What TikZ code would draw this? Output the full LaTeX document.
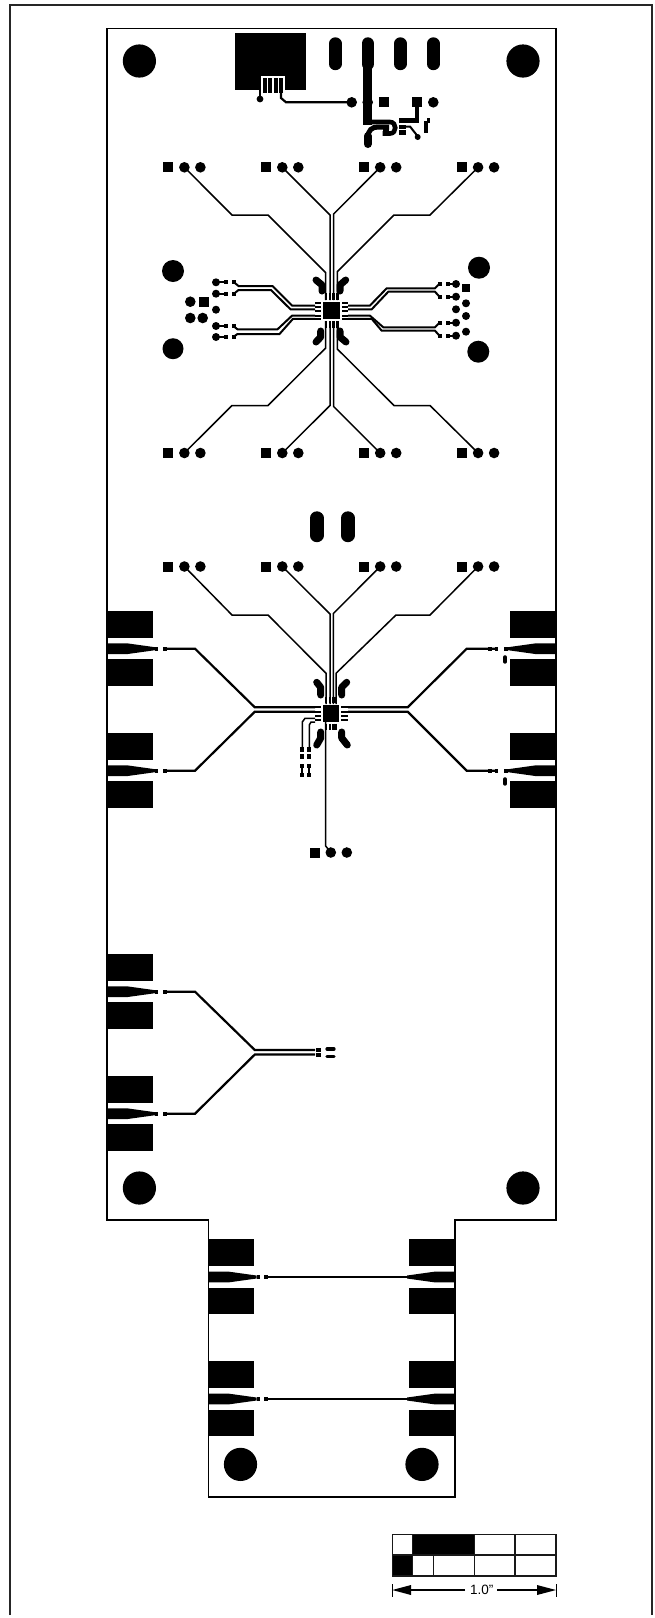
\documentclass[tikz,border=0pt]{standalone}
\usepackage{fontspec}
\setmainfont{Liberation Sans}
\tikzset{
  trace/.style={line width=1.5pt,line join=miter},
  fan/.style={line width=2pt,line join=miter},
  hvy/.style={line width=2.2pt,line join=miter},
  blob/.style={line width=7pt,line cap=round,line join=round},
  outline/.style={line width=1.7pt,line join=miter},
  framing/.style={line width=1.7pt,draw=black!85},
  ruler/.style={line width=1.2pt,draw=black!90}
}
\newcommand{\dotc}[3]{\fill (#1,#2) circle[radius=#3pt];}
\newcommand{\sq}[3]{\fill (#1-#3/2,#2-#3/2) rectangle (#1+#3/2,#2+#3/2);}
\newcommand{\hdr}[2]{\sq{#1}{#2}{10}\dotc{#1+16}{#2}{5.3}\dotc{#1+32}{#2}{5.3}}
\newcommand{\slot}[4]{\draw[line width=#3pt,line cap=round] (#1,#2) -- (#1,#4);}
\newcommand{\chipbody}[2]{\fill (#1-8.4,#2-8.6) rectangle (#1+8.4,#2+8.6);}
\newcommand{\launch}[3]{%
  \fill (#1,#2-37.7) rectangle (#1+#3*45.7,#2-11);
  \fill (#1,#2+10.7) rectangle (#1+#3*45.7,#2+37.4);
  \fill (#1,#2-5.4) -- (#1+#3*20,#2-5.4) -- (#1+#3*48,#2-1.5) -- (#1+#3*48,#2+1.5) -- (#1+#3*20,#2+5.4) -- (#1,#2+5.4) -- cycle;}
\begin{document}
\begin{tikzpicture}[x=1pt,y=-1pt]
\useasboundingbox (0,0) rectangle (654,1618);
\fill[white] (0,0) rectangle (654,1618);
% outer frame, open at the foot
\draw[framing] (10.3,1615) -- (10.3,5) -- (651.7,5) -- (651.7,1615);
% board outline
\draw[outline] (107,28.5) -- (556,28.5) -- (556,1220) -- (455,1220) -- (455,1497) -- (208.5,1497) -- (208.5,1220) -- (107,1220) -- cycle;
% mounting holes
\foreach \p in {(139.4,61),(523,61),(139.4,1188),(523,1188),(240.5,1464.4),(422,1464.4)} {\fill \p circle[radius=16.6pt];}
% connector block with fingers
\fill (235,33) rectangle (306,90);
\fill[white] (261,76) rectangle (284.5,92);
\fill (262.7,78) rectangle (283.2,93);
\foreach \x in {267.8,273,278.2} {\draw[white,line width=1.1pt] (\x,77) -- (\x,94);}
\draw[line width=1.5pt] (252,88.5) -- (260,88.5);
\draw[line width=2.2pt] (260,88) -- (260,99);
\dotc{260}{99}{3.4}
\draw[hvy] (281,90) -- (281,98) -- (286,102.3) -- (352,102.3);
% top row
\dotc{351.7}{102.3}{5.3}
\dotc{367.7}{102.3}{5.3}
\sq{384}{102.3}{10}
\sq{417}{102.3}{10}
\dotc{433.3}{102.3}{5.3}
% top slots
\slot{335.3}{43.5}{12.4}{64}
\slot{400.3}{43.5}{12.4}{64}
\slot{433.3}{43.5}{12.4}{64}
\slot{367.7}{43.5}{12.4}{64}
\draw[line width=8.6pt] (367.7,60) -- (367.7,124.5);
\draw[line width=4.6pt] (364,122) -- (390,122) .. controls (397,122) and (397,133.5) .. (390,133.5) -- (382.5,133.5);
\fill (382.5,129) rectangle (389,136);
\draw[line width=8pt,line cap=round] (367.7,144) -- (367.7,136);
\draw[line width=5pt] (367.7,138) .. controls (368,130) and (372,127) .. (378,127) -- (389,127);
% right power part
\draw[line width=3.5pt] (417,102) -- (417,121);
\draw[line width=4.5pt] (399.3,120.3) -- (418.5,120.3);
\fill (399.3,125) rectangle (406,129);
\fill (399.3,130) rectangle (406,135);
\draw[line width=2pt] (403,126.5) -- (410,126.5) -- (417.5,136);
\dotc{417.7}{137}{3}
\fill (424,123) rectangle (428,132.5);
\fill (424,118) rectangle (430,123);
\fill[white] (424,118) rectangle (427,120.5);
% header rows
\foreach \x in {168.4,266.3,364.2,462.1} {\hdr{\x}{167.3}\hdr{\x}{453}\hdr{\x}{566.5}}
\hdr{314.8}{852.5}
% ---------- upper chip ----------
\chipbody{331.5}{310.5}
\draw[trace] (184.4,167.3) -- (232,215) -- (268,215) -- (325.7,272.7) -- (325.7,300);
\draw[trace] (282.3,167.3) -- (330,215) -- (330,300);
\draw[trace] (380.2,167.3) -- (333.6,214) -- (333.6,300);
\draw[trace] (478.1,167.3) -- (430,215) -- (394,215) -- (337.3,271.7) -- (337.3,300);
\draw[trace] (184.4,453) -- (232,405.5) -- (268,405.5) -- (325.7,348) -- (325.7,321);
\draw[trace] (282.3,453) -- (330,405.5) -- (330,321);
\draw[trace] (380.2,453) -- (333.6,406.5) -- (333.6,321);
\draw[trace] (478.1,453) -- (430,405.5) -- (394,405.5) -- (337.3,349) -- (337.3,321);
\foreach \x in {325.7,330,333.6,337.3} {
  \draw[line width=2.4pt] (\x,293) -- (\x,300);
  \draw[line width=2.4pt] (\x,321) -- (\x,328);}
\foreach \p in {303,307,311,315.5,319} {
  \draw[line width=2pt] (315,\p) -- (321,\p);
  \draw[line width=2pt] (342,\p) -- (348,\p);}
\draw[blob] (316,280) -- (322,285) -- (322,291);
\draw[blob] (345.7,280) -- (340,285) -- (340,291);
\draw[blob] (320.7,331) -- (320.7,337) -- (316,342);
\draw[blob] (340,331) -- (340,337) -- (346,342);
% side fans, left
\draw[fan] (315,305.5) -- (292,305.5) -- (272.5,286) -- (238.5,286) -- (234,282.3);
\draw[fan] (315,309.3) -- (290.5,309.3) -- (271,290) -- (238.5,290) -- (234,293.7);
\draw[fan] (315,315.7) -- (292,315.7) -- (277.5,329.3) -- (237.5,329.3) -- (233.3,326);
\draw[fan] (315,318.8) -- (293,318.8) -- (279.5,334) -- (237.5,334) -- (233.3,337);
% side fans, right
\draw[fan] (348,305.5) -- (370,305.5) -- (386.7,288.3) -- (435,288.3) -- (439.5,283.8);
\draw[fan] (348,309.3) -- (371.7,309.3) -- (388.3,291.7) -- (435,291.7) -- (439.5,296.7);
\draw[fan] (348,315.7) -- (370,315.7) -- (383.3,327.3) -- (435,327.3) -- (439.5,322.7);
\draw[fan] (348,318.8) -- (371.7,318.8) -- (381.7,330.7) -- (435,330.7) -- (439.5,335.7);
% left vias and pads
\foreach \y in {282.3,293.7,326,337} {
  \dotc{216}{\y}{4}
  \draw[line width=1.8pt] (216,\y) -- (228,\y);
  \fill (223.5,\y-2) rectangle (228,\y+2);
  \fill (232,\y-2) rectangle (236,\y+2);}
\dotc{216}{309.7}{4}
\sq{204}{301.7}{10}
\dotc{190.3}{301.7}{5.3}
\dotc{190.3}{318}{5.3}
\dotc{202.7}{318}{5.3}
\fill (173,271) circle[radius=11pt];
\fill (173,348.7) circle[radius=10.5pt];
% right vias and pads
\foreach \y in {284,296.7,322.7,335.7} {
  \dotc{456}{\y}{4}
  \draw[line width=1.8pt] (447,\y) -- (456,\y);
  \fill (438,\y-2) rectangle (442,\y+2);
  \fill (446,\y-2) rectangle (450,\y+2);}
\sq{466}{287.7}{8}
\dotc{466}{303.3}{4}
\dotc{456}{309.3}{4}
\dotc{466}{316}{4}
\dotc{466}{331.7}{4}
\fill (479,267.7) circle[radius=11pt];
\fill (478.3,351.7) circle[radius=11pt];
% slots between the sections
\slot{316.8}{518}{13.4}{535.5}
\slot{347.8}{518}{13.4}{535.5}
% ---------- lower chip ----------
\chipbody{331}{713.3}
\draw[trace] (184.4,566.5) -- (232,615) -- (268,615) -- (326,673.3) -- (326,704);
\draw[trace] (282.3,566.5) -- (330,614) -- (330,704);
\draw[trace] (380.2,566.5) -- (333.4,613.5) -- (333.4,704);
\draw[trace] (478.1,566.5) -- (430,615) -- (396,615) -- (336,673.3) -- (336,704);
\foreach \x in {326,330,333.4,336} {\draw[line width=2.2pt] (\x,696.5) -- (\x,703);}
\foreach \x in {326,330,333.4,336} {\draw[line width=2.2pt] (\x,723.5) -- (\x,730);}
\foreach \y in {707.3,711.7,715.5,719.5} {
  \draw[line width=2pt] (315,\y) -- (321,\y);
  \draw[line width=2pt] (341,\y) -- (348,\y);}
\draw[blob] (316.7,682.3) -- (320.7,687.3) -- (320.7,695);
\draw[blob] (346.7,682.3) -- (341.7,687.3) -- (341.7,695);
\draw[blob] (320.7,732) -- (320.7,738) -- (316.7,745);
\draw[blob] (341.7,732) -- (341.7,738) -- (347.3,745);
\draw[trace] (325.7,722) -- (325.7,846) -- (330.8,852.5);
\draw[hvy] (166.7,648.7) -- (195,648.7) -- (254.8,707.3) -- (315,707.3);
\draw[hvy] (166.7,770.7) -- (195,770.7) -- (254.8,711.7) -- (315,711.7);
\draw[hvy] (495,648.7) -- (466.7,648.7) -- (407.7,707.3) -- (348,707.3);
\draw[hvy] (495,770.7) -- (466.7,770.7) -- (407.7,711.7) -- (348,711.7);
% little traces under the lower chip
\draw[trace] (315,718.3) -- (305,718.3) -- (302.3,722) -- (302.3,748);
\draw[trace] (315,722) -- (311,722) -- (309.3,725) -- (309.3,748);
\foreach \x in {302.3,309.3} {\foreach \y in {749.5,756.5,766,775} {\fill (\x-1.9,\y-2.2) rectangle (\x+1.9,\y+2.2);}
  \draw[line width=2pt] (\x,766) -- (\x,775);}
% launches, left and right
\foreach \y in {648.7,770.7,991.7,1113.7} {
  \launch{107}{\y}{1}
  \fill (155,\y-1.8) rectangle (158.3,\y+1.8);
  \fill (163.3,\y-1.8) rectangle (166.7,\y+1.8);}
\foreach \y in {648.7,770.7} {
  \launch{556}{\y}{-1}
  \fill (504,\y-1.8) rectangle (508,\y+1.8);
  \fill (495,\y-1.8) rectangle (498.3,\y+1.8);
  \fill (488.3,\y-1.8) rectangle (491.7,\y+1.8);
  \draw[line width=4pt,line cap=round] (505,\y+8.5) -- (505,\y+13);}
% third group
\draw[hvy] (166.7,991.7) -- (195,991.7) -- (254.8,1050) -- (315,1050);
\draw[hvy] (166.7,1113.7) -- (195,1113.7) -- (254.8,1054.5) -- (315,1054.5);
\fill (316,1048) rectangle (321,1051.5);
\fill (316,1053) rectangle (321,1056.5);
\draw[line width=3.2pt,line cap=round] (327,1049) -- (334,1049);
\draw[line width=3.2pt,line cap=round] (327,1056.5) -- (334,1056.5);
% lower launches
\foreach \y in {1277,1399} {
  \launch{208.5}{\y}{1}
  \launch{455}{\y}{-1}
  \fill (257,\y-1.8) rectangle (260,\y+1.8);
  \fill (264,\y-1.8) rectangle (267.7,\y+1.8);
  \draw[trace] (267.7,\y) -- (407,\y);}
% scale bar
\fill (412.7,1534.3) rectangle (474.3,1555);
\fill (392.3,1555) rectangle (412.7,1576);
\draw[ruler] (392.3,1534.3) rectangle (556,1576);
\draw[ruler] (392.3,1555) -- (556,1555);
\foreach \x in {412.7,474.3,515} {\draw[ruler] (\x,1534.3) -- (\x,1576);}
\draw[ruler] (433.3,1555) -- (433.3,1576);
\draw[line width=1pt] (392.3,1584) -- (392.3,1596.7);
\draw[line width=1pt] (556,1584) -- (556,1596.7);
\fill (392.3,1590) -- (411,1585) -- (411,1595) -- cycle;
\fill (556,1590) -- (537,1585) -- (537,1595) -- cycle;
\node[inner sep=0pt,font=\fontsize{13.5}{14}\selectfont] (scalelabel) at (481.7,1590) {1.0"};
\draw[line width=1.2pt] (465,1590) -- (411,1590);
\draw[line width=1.2pt] (497,1590) -- (540,1590);
\end{tikzpicture}
\end{document}
